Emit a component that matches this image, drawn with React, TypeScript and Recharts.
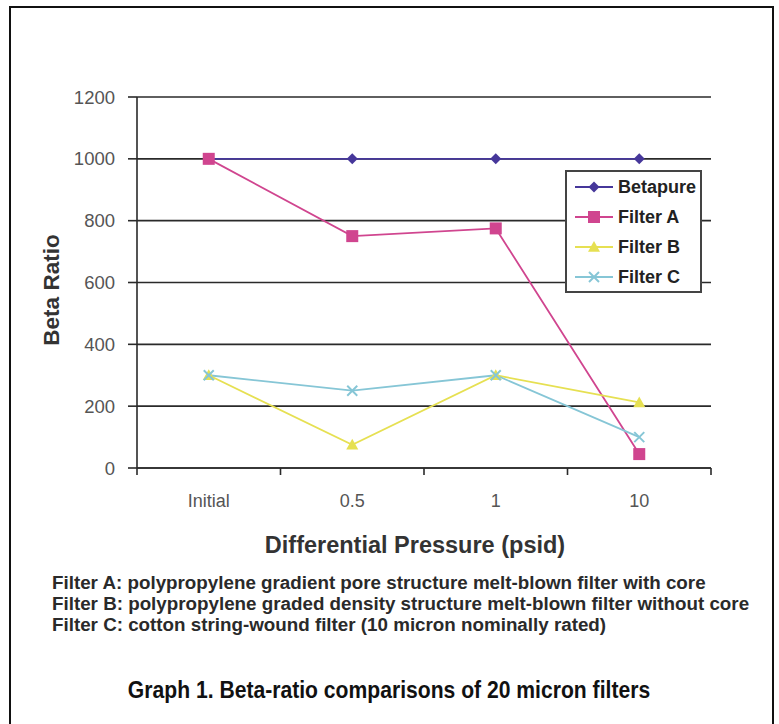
import React from 'react';
import { LineChart, Line, XAxis, YAxis, CartesianGrid, Legend } from 'recharts';

const categories = ['Initial', '0.5', '1', '10'];
const betapure = [1000, 1000, 1000, 1000];
const filterA = [1000, 750, 775, 45];
const filterB = [300, 75, 300, 212];
const filterC = [300, 250, 300, 100];
const yTicks = [0, 200, 400, 600, 800, 1000, 1200];
const xTicks = [0, 0.5, 1, 1.5, 2, 2.5, 3, 3.5, 4];
const noteLines = [
  'Filter A: polypropylene gradient pore structure melt-blown filter with core',
  'Filter B: polypropylene graded density structure melt-blown filter without core',
  'Filter C: cotton string-wound filter (10 micron nominally rated)',
];
const caption = 'Graph 1. Beta-ratio comparisons of 20 micron filters';
const yTitle = 'Beta Ratio';
const xTitle = 'Differential Pressure (psid)';

const data = categories.map((c, i) => ({
  cat: c,
  pos: i + 0.5,
  betapure: betapure[i],
  filterA: filterA[i],
  filterB: filterB[i],
  filterC: filterC[i],
}));

const series = [
  { key: 'betapure', name: 'Betapure', color: '#46379a', shape: 'diamond' },
  { key: 'filterA', name: 'Filter A', color: '#d0458f', shape: 'square' },
  { key: 'filterB', name: 'Filter B', color: '#e6e052', shape: 'triangle' },
  { key: 'filterC', name: 'Filter C', color: '#86c6d6', shape: 'cross' },
];

const FONT = '"Liberation Sans", Arial, Helvetica, sans-serif';

function Marker({ shape, color, x, y }: { shape: string; color: string; x: number; y: number }) {
  if (shape === 'diamond') {
    const r = 5.5;
    return <polygon points={`${x},${y - r} ${x + r},${y} ${x},${y + r} ${x - r},${y}`} fill={color} />;
  }
  if (shape === 'square') {
    const r = 6;
    return <rect x={x - r} y={y - r} width={2 * r} height={2 * r} fill={color} />;
  }
  if (shape === 'triangle') {
    const r = 6;
    return <polygon points={`${x},${y - r} ${x + r},${y + r * 0.8} ${x - r},${y + r * 0.8}`} fill={color} />;
  }
  const r = 5;
  return (
    <g stroke={color} strokeWidth={2}>
      <line x1={x - r} y1={y - r} x2={x + r} y2={y + r} />
      <line x1={x - r} y1={y + r} x2={x + r} y2={y - r} />
    </g>
  );
}

const makeDot = (shape: string, color: string) => (props: any) => {
  const { cx, cy, index } = props;
  if (cx == null || cy == null) return <g key={index} />;
  return (
    <g key={index}>
      <Marker shape={shape} color={color} x={cx} y={cy} />
    </g>
  );
};

const renderLegend = (props: any) => {
  const payload = props.payload || [];
  return (
    <div
      style={{
        border: '2px solid #444',
        background: '#fff',
        padding: '0 0 0 6px',
        boxSizing: 'border-box',
        width: 137,
        height: 123,
      }}
    >
      {payload.map((entry: any) => {
        const s = series.find((q) => q.name === entry.value) || series[0];
        return (
          <div key={s.key} style={{ display: 'flex', alignItems: 'center', height: 30 }}>
            <svg width={44} height={16} style={{ flex: 'none' }}>
              <line x1={2} y1={8} x2={40} y2={8} stroke={s.color} strokeWidth={1.8} />
              <Marker shape={s.shape} color={s.color} x={21} y={8} />
            </svg>
            <span
              style={{
                fontFamily: FONT,
                fontWeight: 700,
                fontSize: 18,
                color: '#222',
                marginLeft: 1,
              }}
            >
              {entry.value}
            </span>
          </div>
        );
      })}
    </div>
  );
};

// Integer positions are category boundaries (tick marks); half positions are category centres (labels).
const XTick = (props: any) => {
  const { x, y, payload } = props;
  const v = payload.value as number;
  if (Number.isInteger(v)) {
    return <line x1={x} y1={y} x2={x} y2={y + 7} stroke="#2a2a2a" strokeWidth={1.6} />;
  }
  return (
    <text x={x} y={y + 26} dy="0.71em" textAnchor="middle" fill="#555" fontSize={18} fontFamily={FONT}>
      {categories[Math.floor(v)]}
    </text>
  );
};

export default function App() {
  return (
    <div style={{ position: 'absolute', left: 0, top: 0, width: 779, height: 724, background: '#fff' }}>
      <div
        style={{
          position: 'absolute',
          left: 9,
          top: 6,
          width: 765,
          height: 730,
          borderLeft: '2.5px solid #111',
          borderTop: '2.5px solid #111',
          borderRight: '2.5px solid #111',
          boxSizing: 'border-box',
        }}
      />
      <div style={{ position: 'absolute', left: 0, top: 0 }}>
        <LineChart width={779} height={724} data={data} margin={{ top: 97, right: 68, bottom: 216, left: 0 }}>
          <CartesianGrid
            xAxisId="main"
            yAxisId="left"
            vertical={false}
            stroke="#2a2a2a"
            strokeWidth={1.6}
            horizontalValues={yTicks}
          />
          <XAxis
            xAxisId="main"
            type="number"
            dataKey="pos"
            domain={[0, 4]}
            ticks={xTicks}
            interval={0}
            tick={<XTick />}
            tickLine={false}
            tickSize={0}
            tickMargin={0}
            height={40}
            axisLine={{ stroke: '#2a2a2a', strokeWidth: 1.6 }}
          />
          <YAxis
            yAxisId="left"
            domain={[0, 1200]}
            ticks={yTicks}
            width={137}
            tickSize={9}
            tickMargin={13}
            interval={0}
            stroke="#2a2a2a"
            axisLine={{ stroke: '#2a2a2a', strokeWidth: 1.6 }}
            tickLine={{ stroke: '#2a2a2a', strokeWidth: 1.6 }}
            tick={{ fill: '#555', fontSize: 18.5, fontFamily: FONT }}
          />
          <YAxis
            yAxisId="right"
            orientation="right"
            domain={[0, 1200]}
            ticks={yTicks}
            width={0}
            tick={false}
            tickLine={false}
            axisLine={{ stroke: '#2a2a2a', strokeWidth: 1.6 }}
          />
          <Legend
            layout="horizontal"
            verticalAlign="middle"
            align="center"
            content={renderLegend}
            wrapperStyle={{ position: 'absolute', left: 565, top: 170, width: 137, height: 123 }}
          />
          {series.map((s) => (
            <Line
              key={s.key}
              xAxisId="main"
              yAxisId="left"
              type="linear"
              dataKey={s.key}
              name={s.name}
              stroke={s.color}
              strokeWidth={1.8}
              dot={makeDot(s.shape, s.color)}
              activeDot={false}
              isAnimationActive={false}
            />
          ))}
        </LineChart>
      </div>
      <div
        style={{
          position: 'absolute',
          left: 52,
          top: 290,
          transform: 'translate(-50%, -50%) rotate(-90deg)',
          fontFamily: FONT,
          fontWeight: 700,
          fontSize: 22.5,
          color: '#333',
          whiteSpace: 'nowrap',
        }}
      >
        {yTitle}
      </div>
      <div
        style={{
          position: 'absolute',
          left: 415,
          top: 545,
          transform: 'translate(-50%, -50%)',
          fontFamily: FONT,
          fontWeight: 700,
          fontSize: 23.5,
          color: '#333',
          whiteSpace: 'nowrap',
        }}
      >
        {xTitle}
      </div>
      <div
        style={{
          position: 'absolute',
          left: 52,
          top: 572,
          fontFamily: FONT,
          fontWeight: 700,
          fontSize: 18.8,
          lineHeight: '21px',
          color: '#2a2a2a',
          whiteSpace: 'nowrap',
        }}
      >
        {noteLines.map((t) => (
          <div key={t}>{t}</div>
        ))}
      </div>
      <div
        style={{
          position: 'absolute',
          left: 389,
          top: 690,
          transform: 'translate(-50%, -50%) scaleX(0.88)',
          fontFamily: FONT,
          fontWeight: 700,
          fontSize: 24,
          color: '#111',
          whiteSpace: 'nowrap',
        }}
      >
        {caption}
      </div>
    </div>
  );
}
